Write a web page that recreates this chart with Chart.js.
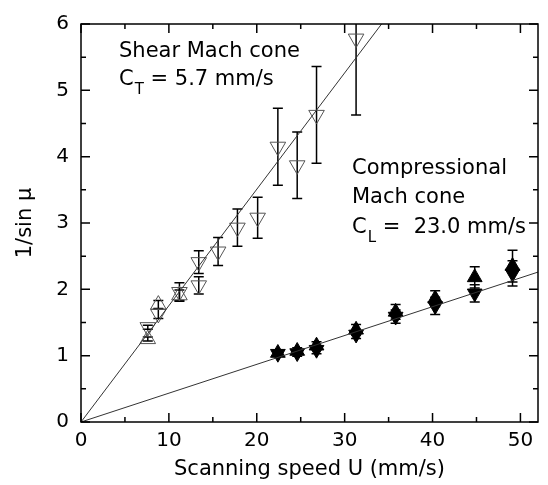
<!DOCTYPE html>
<html>
<head>
<meta charset="utf-8">
<script src="https://cdn.jsdelivr.net/npm/chart.js@4.4.0/dist/chart.umd.min.js"></script>
<style>
  html, body { margin: 0; padding: 0; background: #fff; }
  #wrap { width: 548px; height: 485px; }
</style>
</head>
<body>
<div id="wrap"><canvas id="chart"></canvas></div>
<script>
// axis ranges and tick marks
const X_MIN = 0, X_MAX = 52;
const Y_MIN = 0, Y_MAX = 6;
const xMajorTicks = [0, 10, 20, 30, 40, 50];
const xMinorTicks = [5, 15, 25, 35, 45];
const yMajorTicks = [0, 1, 2, 3, 4, 5, 6];
const yMinorTicks = [0.5, 1.5, 2.5, 3.5, 4.5, 5.5];

// shear Mach cone, open down triangles
const shearDownU   = [7.6, 8.8, 11.2, 13.4, 13.4, 15.6, 17.8, 20.1, 22.4, 24.6, 26.8, 31.3];
const shearDownY   = [1.43, 1.63, 1.96, 2.41, 2.06, 2.57, 2.93, 3.08, 4.15, 3.87, 4.63, 5.78];
const shearDownErr = [0.03, 0.07, 0.14, 0.17, 0.13, 0.21, 0.28, 0.31, 0.58, 0.50, 0.73, 1.15];

// shear Mach cone, open up triangles
const shearUpU   = [7.6, 8.8, 11.2];
const shearUpY   = [1.25, 1.77, 1.91];
const shearUpErr = [0.03, 0.06, 0.08];

// compressional Mach cone, filled triangles
const compU       = [22.4, 24.6, 26.8, 31.3, 35.8, 40.3, 44.8, 49.1];
const compUpY     = [1.04, 1.07, 1.15, 1.39, 1.66, 1.86, 2.18, 2.35];
const compUpErr   = [0.04, 0.05, 0.06, 0.08, 0.11, 0.12, 0.16, 0.24];
const compDownY   = [1.03, 1.04, 1.09, 1.32, 1.59, 1.75, 1.94, 2.24];
const compDownErr = [0.04, 0.05, 0.06, 0.06, 0.10, 0.13, 0.13, 0.19];

// fitted lines U / C
const shearFitU = [0, 34.2];
const shearFitY = [0, 6.0];
const compFitU  = [0, 52];
const compFitY  = [0, 2.26];

const FONT = "'DejaVu Sans', sans-serif";

function pts(xs, ys) {
    return xs.map((x, i) => ({ x, y: ys[i] }));
}

// ------------------------------------------------------------------
// error bars, drawn under the markers
// ------------------------------------------------------------------
const errorBars = {
    id: 'errorBars',
    beforeDatasetsDraw(chart) {
        const { ctx, chartArea: a, scales: { x, y } } = chart;
        ctx.save();
        ctx.beginPath();
        ctx.rect(a.left, a.top, a.right - a.left, a.bottom - a.top);
        ctx.clip();
        ctx.strokeStyle = '#000';
        ctx.lineWidth = 1.5;
        chart.data.datasets.forEach(ds => {
            if (!ds.err) return;
            ds.data.forEach((p, i) => {
                const px = x.getPixelForValue(p.x);
                const top = y.getPixelForValue(p.y + ds.err[i]);
                const bot = y.getPixelForValue(p.y - ds.err[i]);
                ctx.beginPath();
                ctx.moveTo(px, top); ctx.lineTo(px, bot);
                ctx.moveTo(px - 5, top); ctx.lineTo(px + 5, top);
                ctx.moveTo(px - 5, bot); ctx.lineTo(px + 5, bot);
                ctx.stroke();
            });
        });
        ctx.restore();
    }
};

// ------------------------------------------------------------------
// frame, inward ticks on all four sides, annotations
// ------------------------------------------------------------------
const frameAndText = {
    id: 'frameAndText',
    afterDraw(chart) {
        const { ctx, chartArea: a, scales: { x, y } } = chart;
        ctx.save();
        ctx.strokeStyle = '#000';
        ctx.lineWidth = 1.5;
        ctx.strokeRect(a.left, a.top, a.right - a.left, a.bottom - a.top);

        const xt = (vals, len) => vals.forEach(v => {
            const px = x.getPixelForValue(v);
            ctx.moveTo(px, a.bottom); ctx.lineTo(px, a.bottom - len);
            ctx.moveTo(px, a.top); ctx.lineTo(px, a.top + len);
        });
        const yt = (vals, len) => vals.forEach(v => {
            const py = y.getPixelForValue(v);
            ctx.moveTo(a.left, py); ctx.lineTo(a.left + len, py);
            ctx.moveTo(a.right, py); ctx.lineTo(a.right - len, py);
        });
        ctx.beginPath();
        xt(xMajorTicks, 9); xt(xMinorTicks, 5);
        yt(yMajorTicks, 9); yt(yMinorTicks, 5);
        ctx.stroke();

        // labels with subscripts
        ctx.fillStyle = '#000';
        ctx.textBaseline = 'alphabetic';
        const label = (x0, y0, main, sub, rest) => {
            ctx.font = `21px ${FONT}`;
            ctx.fillText(main, x0, y0);
            let w = ctx.measureText(main).width;
            ctx.font = `15px ${FONT}`;
            ctx.fillText(sub, x0 + w + 1, y0 + 9);
            w += ctx.measureText(sub).width + 1;
            ctx.font = `21px ${FONT}`;
            ctx.fillText(rest, x0 + w, y0);
        };
        ctx.font = `21px ${FONT}`;
        ctx.fillText('Shear Mach cone', 119, 57);
        label(119, 85, 'C', 'T', ' = 5.7 mm/s');

        ctx.font = `21px ${FONT}`;
        ctx.fillText('Compressional', 352, 174);
        ctx.fillText('Mach cone', 352, 203);
        label(352, 233, 'C', 'L', ' =  23.0 mm/s');
        ctx.restore();
    }
};

const openStyle = { backgroundColor: 'rgba(0,0,0,0)', borderColor: '#555', borderWidth: 1, pointRadius: 9, pointHoverRadius: 9 };
const solidStyle = { backgroundColor: '#000', borderColor: '#000', borderWidth: 1, pointRadius: 8.5, pointHoverRadius: 8.5 };

new Chart(document.getElementById('chart'), {
    type: 'scatter',
    data: {
        datasets: [
            { data: pts(shearFitU, shearFitY), showLine: true, borderColor: '#333', borderWidth: 1, pointRadius: 0 },
            { data: pts(compFitU, compFitY), showLine: true, borderColor: '#333', borderWidth: 1, pointRadius: 0 },
            { data: pts(shearDownU, shearDownY), err: shearDownErr, pointStyle: 'triangle', rotation: 180, ...openStyle },
            { data: pts(shearUpU, shearUpY), err: shearUpErr, pointStyle: 'triangle', ...openStyle },
            { data: pts(compU, compDownY), err: compDownErr, pointStyle: 'triangle', rotation: 180, ...solidStyle },
            { data: pts(compU, compUpY), err: compUpErr, pointStyle: 'triangle', ...solidStyle },
        ],
    },
    options: {
        responsive: true,
        maintainAspectRatio: false,
        animation: false,
        layout: { padding: { top: 19, right: 5, left: 0, bottom: 0 } },
        scales: {
            x: {
                type: 'linear',
                min: X_MIN,
                max: X_MAX,
                grid: { display: false, drawTicks: false },
                border: { display: false },
                afterBuildTicks: s => { s.ticks = xMajorTicks.map(v => ({ value: v })); },
                afterFit: s => { s.height = 63; },
                ticks: { color: '#000', padding: 7, maxRotation: 0, font: { family: FONT, size: 20 } },
                title: { display: true, text: 'Scanning speed U (mm/s)', color: '#000', padding: { bottom: 3 }, font: { family: FONT, size: 21 } },
            },
            y: {
                type: 'linear',
                min: Y_MIN,
                max: Y_MAX,
                grid: { display: false, drawTicks: false },
                border: { display: false },
                afterBuildTicks: s => { s.ticks = yMajorTicks.map(v => ({ value: v })); },
                afterFit: s => { s.width = 81; },
                ticks: { color: '#000', padding: 12, font: { family: FONT, size: 20 } },
                title: { display: true, text: '1/sin μ', color: '#000', padding: { top: 13 }, font: { family: FONT, size: 21 } },
            },
        },
        plugins: {
            legend: { display: false },
            tooltip: { enabled: false },
        },
    },
    plugins: [errorBars, frameAndText],
});
</script>
</body>
</html>
